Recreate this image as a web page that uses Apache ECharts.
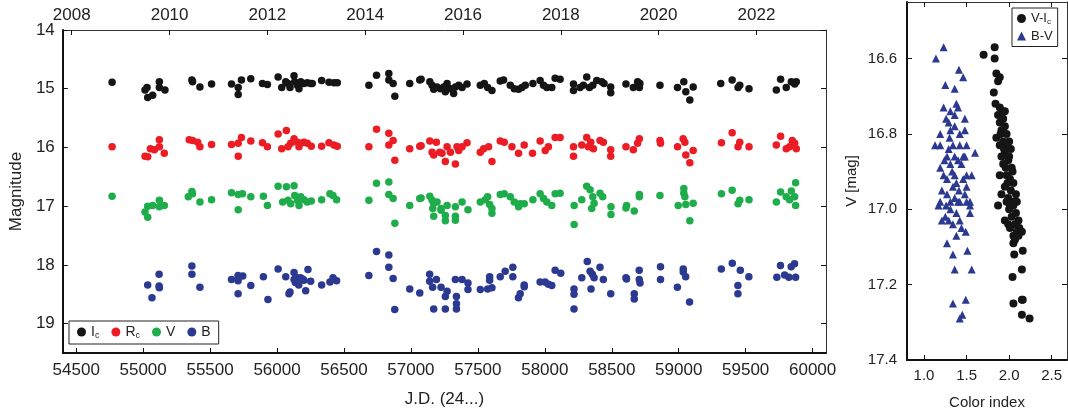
<!DOCTYPE html>
<html>
<head>
<meta charset="utf-8">
<script src="https://cdn.jsdelivr.net/npm/echarts@6.0.0/dist/echarts.min.js"></script>
<style>html,body{margin:0;padding:0;background:#fff}#c{width:1068px;height:415px}</style>
</head>
<body>
<div id="c"></div>
<script>
// ---- left panel: light curves (J.D. - 2400000, magnitude) ----
const jdTicks = [54500, 55000, 55500, 56000, 56500, 57000, 57500, 58000, 58500, 59000, 59500, 60000];
const magTicks = [14, 15, 16, 17, 18, 19];
const yearLabels = ['2008', '2010', '2012', '2014', '2016', '2018', '2020', '2022'];
const yearJD = [54466.5, 55197.5, 55927.5, 56658.5, 57388.5, 58119.5, 58849.5, 59580.5];

const Ic = [
[54768,14.89],[55014,15.02],[55034,15.15],[55071,15.11],[55029,14.98],[55121,14.88],[55121,14.98],[55163,15.02],
[55364,14.85],[55369,14.88],[55424,14.97],[55511,14.92],[55660,14.92],[55710,14.98],[55710,15.10],[55734,14.85],
[55804,14.83],[55891,14.91],[55928,14.93],[56008,14.80],[56035,14.98],[56065,14.88],[56082,14.91],[56097,14.98],
[56127,14.78],[56132,14.88],[56152,14.94],[56164,15.00],[56177,14.88],[56201,14.91],[56226,14.90],[56251,14.91],
[56263,14.91],[56333,14.86],[56388,14.89],[56425,14.90],[56450,14.90],[56686,14.94],[56743,14.77],[56835,14.74],
[56835,14.85],[56867,14.91],[56880,15.13],[56991,14.91],[57066,14.85],
[57076,14.84],[57141,14.88],[57158,14.94],[57170,15.01],[57195,14.97],[57220,15.00],[57245,14.97],[57257,15.05],
[57270,14.91],[57295,15.00],[57319,15.08],[57332,14.97],[57357,14.94],[57382,14.98],[57419,14.92],[57518,14.94],
[57548,14.91],[57573,14.98],[57605,15.03],[57667,14.87],[57692,14.85],[57742,14.94],[57772,15.00],[57804,15.01],
[57829,14.98],[57854,14.94],[57911,14.91],[57965,14.86],[57990,14.94],[58015,14.98],[58052,14.98],[58077,14.82],
[58114,14.84],[58214,14.92],[58214,15.03],[58263,14.98],[58288,14.94],[58313,14.80],[58333,14.98],[58358,14.94],
[58388,14.86],[58425,14.88],[58442,14.91],[58492,14.97],[58492,15.07],[58606,14.92],[58661,14.98],[58693,14.88],
[58706,14.98],[58710,14.91],[58860,14.94],[58991,14.98],[59038,14.88],[59053,15.05],[59083,15.19],[59108,14.97],
[59314,14.91],[59399,14.85],[59443,14.98],[59456,14.94],[59525,15.00],[59729,15.02],[59761,14.84],[59803,14.98],
[59841,14.88],[59866,14.92],[59878,14.88]
];

const Rc = [
[54768,15.99],[55014,16.15],[55034,16.16],[55054,16.02],[55084,16.04],[55121,15.87],[55121,15.99],[55158,16.10],
[55344,15.87],[55369,15.88],[55407,15.91],[55424,15.99],[55511,15.95],[55660,15.95],[55710,15.93],[55710,16.15],
[55734,15.83],[55804,15.89],[55891,15.92],[55928,15.99],[56008,15.77],[56035,16.02],[56070,15.71],[56082,15.99],
[56102,15.93],[56127,15.85],[56152,15.91],[56164,15.99],[56177,15.93],[56201,15.91],[56226,15.93],[56256,15.98],
[56333,15.98],[56388,15.92],[56425,15.96],[56450,15.98],[56686,15.99],[56743,15.69],[56835,15.76],[56835,15.96],
[56867,15.88],[56880,16.22],[56991,16.02],[57066,15.98],
[57076,15.97],[57141,15.89],[57158,16.08],[57170,16.13],[57190,15.91],[57215,16.08],[57232,16.10],[57257,16.24],
[57270,15.99],[57295,16.08],[57332,16.28],[57344,15.99],[57357,16.05],[57382,15.99],[57419,15.92],[57518,16.08],
[57543,16.02],[57580,15.99],[57605,16.24],[57667,15.89],[57697,15.91],[57754,15.99],[57804,16.10],[57846,15.96],
[57908,16.10],[57965,15.89],[58003,16.05],[58027,15.99],[58077,15.83],[58114,15.83],[58214,15.99],[58214,16.15],
[58276,15.96],[58313,15.83],[58325,15.99],[58343,15.91],[58363,16.02],[58412,15.88],[58437,15.91],[58492,16.04],
[58492,16.15],[58606,15.99],[58661,16.04],[58693,15.93],[58706,15.85],[58860,15.88],[58864,15.93],[58991,15.99],
[59033,15.85],[59046,15.91],[59053,16.13],[59083,16.26],[59108,16.05],[59319,15.92],[59399,15.75],[59443,15.99],
[59456,15.91],[59525,15.99],[59729,15.96],[59761,15.81],[59803,16.02],[59828,15.99],[59848,15.88],[59866,15.93],
[59878,16.02]
];

const V = [
[54768,16.83],[55014,17.10],[55034,17.19],[55034,17.00],[55071,16.99],[55121,16.90],[55121,17.01],[55158,16.99],
[55337,16.84],[55364,16.75],[55369,16.79],[55424,16.93],[55511,16.89],[55660,16.77],[55710,16.80],[55710,17.06],
[55742,16.79],[55804,16.84],[55898,16.83],[55928,16.99],[56008,16.66],[56042,16.93],[56070,16.67],[56082,16.90],
[56102,16.96],[56127,16.65],[56132,16.82],[56152,16.90],[56164,16.99],[56177,16.84],[56201,16.89],[56226,16.93],
[56256,16.91],[56333,16.89],[56395,16.79],[56418,16.82],[56445,16.89],[56686,16.90],[56743,16.61],[56835,16.59],
[56835,16.80],[56867,16.87],[56880,17.29],[56991,16.99],[57066,16.87],
[57076,16.86],[57141,16.83],[57158,16.90],[57170,16.95],[57195,16.93],[57225,17.04],[57270,16.99],[57163,17.04],
[57170,17.17],[57225,17.07],[57257,17.16],[57257,17.25],[57332,17.01],[57332,17.17],[57332,17.24],[57382,16.93],
[57426,17.06],[57518,16.93],[57605,17.04],[57605,17.12],[57804,17.01],[57846,16.96],[58052,16.99],[58219,16.99],
[58219,17.31],[58350,17.04],[58494,17.01],[58494,17.14],[58606,17.03],[58668,17.08],[58996,16.99],[59053,16.97],
[59083,17.25],[59108,16.95],[59443,16.96],[59873,16.99],
[57555,16.89],[57573,16.84],[57588,16.97],[57667,16.80],[57697,16.79],[57742,16.84],[57772,16.93],[57816,16.96],
[57911,16.89],[57965,16.79],[57990,16.87],[58015,16.93],[58077,16.79],[58114,16.78],[58276,16.89],[58313,16.66],
[58338,16.72],[58358,16.84],[58368,16.95],[58412,16.78],[58432,16.84],[58611,16.99],[58706,16.80],[58706,16.84],
[58860,16.82],[59038,16.70],[59038,16.78],[59046,16.84],[59319,16.79],[59399,16.73],[59456,16.90],[59525,16.89],
[59729,16.93],[59761,16.76],[59803,16.84],[59828,16.89],[59841,16.74],[59873,16.60],[59866,16.84]
];

const B = [
[55034,18.34],[55066,18.56],[55119,18.16],[55119,18.36],[55121,18.39],[55364,18.02],[55364,18.16],[55424,18.38],
[55660,18.25],[55709,18.18],[55709,18.27],[55709,18.49],[55744,18.19],[55804,18.35],[55898,18.20],[55932,18.59],
[56008,18.07],[56065,18.20],[56089,18.49],[56097,18.46],[56127,18.13],[56127,18.25],[56137,18.30],[56150,18.22],
[56162,18.34],[56175,18.22],[56190,18.24],[56201,18.26],[56214,18.44],[56231,18.08],[56251,18.28],[56333,18.34],
[56395,18.29],[56418,18.22],[56445,18.27],[56686,18.18],[56743,17.77],[56835,17.83],[56835,18.04],[56867,18.23],
[56879,18.76],[56991,18.41],[57066,18.48],
[57140,18.16],[57140,18.28],[57162,18.38],[57170,18.75],[57190,18.25],[57225,18.38],[57257,18.54],[57270,18.45],
[57257,18.75],[57332,18.25],[57382,18.25],[57340,18.54],[57340,18.66],[57340,18.75],[57426,18.31],[57426,18.42],
[57518,18.42],[57573,18.41],[57588,18.20],[57588,18.26],[57605,18.39],[57667,18.20],[57704,18.11],[57761,18.04],
[57761,18.20],[57803,18.56],[57816,18.49],[57846,18.34],[57846,18.37],[57965,18.29],[58002,18.29],[58027,18.33],
[58052,18.35],[58077,18.09],[58119,18.14],[58218,18.41],[58218,18.50],[58218,18.75],[58276,18.22],[58317,17.94],
[58338,18.11],[58345,18.41],[58355,18.16],[58368,18.22],[58412,18.04],[58437,18.25],[58492,18.49],[58606,18.22],
[58610,18.24],[58668,18.49],[58668,18.58],[58705,18.09],[58705,18.25],[58711,18.31],[58864,18.03],[58864,18.25],
[58990,18.38],[59034,18.07],[59034,18.12],[59052,18.20],[59081,18.63],[59318,18.07],[59400,17.97],[59442,18.35],
[59442,18.49],[59460,18.09],[59524,18.20],[59733,18.21],[59760,18.01],[59791,18.17],[59823,18.21],[59840,18.03],
[59865,17.98],[59873,18.21]
];

// ---- right panel: colour-magnitude diagram (colour index, V) ----
const ciTicks = [1.0, 1.5, 2.0, 2.5];
const vTicks = [16.6, 16.8, 17.0, 17.2, 17.4];

const VmI = [
[1.70,16.59],[1.83,16.57],[1.83,16.60],[1.85,16.64],[1.87,16.66],[1.89,16.65],[1.82,16.69],[1.84,16.72],
[1.89,16.73],[1.92,16.74],[1.87,16.75],[1.93,16.76],[1.89,16.77],[1.95,16.78],[1.91,16.79],[1.97,16.80],
[1.85,16.81],[1.93,16.82],[1.97,16.83],[1.89,16.83],[2.02,16.84],[1.95,16.85],[1.91,16.86],[1.99,16.87],
[1.93,16.88],[2.03,16.89],[1.89,16.91],[1.97,16.91],[2.01,16.92],[1.95,16.94],[2.05,16.93],[1.91,16.96],
[1.99,16.97],[2.05,16.98],[2.09,16.98],[1.87,16.99],[1.97,16.98],[2.01,16.99],[2.05,16.99],[1.95,17.03],
[1.99,17.04],[2.03,17.02],[2.07,17.04],[2.11,17.03],[2.15,17.06],[2.05,17.07],[2.09,17.06],[2.05,17.09],
[2.06,17.12],[2.16,17.11],[2.15,17.16],[2.04,17.18],[2.15,17.24],[2.16,17.24],[2.05,17.25],[2.15,17.28],
[2.24,17.29],
[1.95,16.74],[1.90,16.80],[2.00,16.82],[1.94,16.84],[2.00,16.86],[1.96,16.89],[2.04,16.90],[1.98,16.93],
[2.02,16.95],[2.08,16.96],[2.00,17.00],[2.08,17.01],[2.12,17.05],[2.07,17.08],[2.11,17.07],[2.01,17.05]
];

const BmV = [
[1.23,16.57],[1.14,16.60],[1.41,16.63],[1.46,16.65],[1.25,16.67],[1.36,16.68],
[1.38,16.72],[1.23,16.73],[1.31,16.74],[1.40,16.73],[1.26,16.76],[1.36,16.75],[1.48,16.76],[1.29,16.77],
[1.36,16.78],[1.19,16.80],[1.31,16.79],[1.42,16.80],[1.48,16.79],[1.13,16.83],[1.19,16.83],[1.34,16.83],
[1.42,16.83],[1.50,16.83],[1.27,16.86],[1.36,16.86],[1.46,16.86],[1.60,16.85],[1.19,16.89],[1.31,16.88],
[1.40,16.87],[1.48,16.86],[1.23,16.91],[1.36,16.91],[1.50,16.91],[1.56,16.91],[1.27,16.92],[1.38,16.93],
[1.46,16.92],[1.34,16.94],[1.21,16.95],[1.50,16.94],[1.27,16.96],[1.36,16.97],[1.48,16.96],[1.19,16.98],
[1.31,16.98],[1.42,16.98],[1.54,16.98],
[1.17,16.99],[1.26,16.99],[1.40,16.98],[1.50,16.98],[1.54,16.99],[1.31,17.00],[1.38,17.01],[1.54,17.01],
[1.21,17.03],[1.25,17.02],[1.29,17.03],[1.34,17.04],[1.42,17.03],[1.44,17.05],[1.38,17.07],[1.49,17.06],
[1.27,17.09],[1.51,17.11],[1.34,17.12],[1.36,17.16],[1.56,17.16],[1.34,17.25],[1.49,17.24],[1.45,17.28],
[1.42,17.29],
[1.30,16.81],[1.44,16.88],[1.24,16.87],[1.33,16.90],[1.41,16.95],[1.29,16.84]
];

const FONT = "'Liberation Sans', Arial, sans-serif";
const TXT = '#222';
const COLORS = {Ic: '#151515', Rc: '#ec1c24', V: '#1fad4b', B: '#2b3990'};

function labelFmt(name) {
  if (name === 'Ic') return '{n|I}{s|c}';
  if (name === 'Rc') return '{n|R}{s|c}';
  if (name === 'V-Ic') return '{n|V-I}{s|c}';
  return '{n|' + name + '}';
}

function axisBase(o) {
  return Object.assign({
    type: 'value',
    scale: true,
    splitLine: {show: false},
    axisLine: {show: true, onZero: false, lineStyle: {color: '#111', width: 2}},
    axisTick: {show: true, inside: true, length: 5, lineStyle: {color: '#111', width: 1}},
    axisLabel: {show: true, color: TXT, fontFamily: FONT, fontSize: 17},
    nameTextStyle: {color: TXT, fontFamily: FONT, fontSize: 17}
  }, o);
}

const chart = echarts.init(document.getElementById('c'), null, {renderer: 'canvas'});
chart.setOption({
  animation: false,
  backgroundColor: '#fff',
  grid: [
    {left: 62, top: 30, width: 764, height: 323},
    {left: 907, top: 2, width: 160, height: 358}
  ],
  xAxis: [
    axisBase({gridIndex: 0, position: 'bottom', min: 54400, max: 60100,
      axisTick: {show: true, inside: true, length: 5, customValues: jdTicks, lineStyle: {color: '#111'}},
      axisLabel: {color: TXT, fontFamily: FONT, fontSize: 17, margin: 9, customValues: jdTicks,
        formatter: v => String(Math.round(v))},
      name: 'J.D. (24...)', nameLocation: 'middle', nameGap: 38}),
    axisBase({gridIndex: 0, position: 'top', min: 54400, max: 60100,
      axisLine: {show: true, onZero: false, lineStyle: {color: '#333', width: 1}},
      axisTick: {show: true, inside: true, length: 5, customValues: yearJD, lineStyle: {color: '#111'}},
      axisLabel: {color: TXT, fontFamily: FONT, fontSize: 17, margin: 6, customValues: yearJD,
        formatter: function (v) {
          for (let i = 0; i < yearJD.length; i++) if (Math.abs(v - yearJD[i]) < 0.01) return yearLabels[i];
          return '';
        }}}),
    axisBase({gridIndex: 1, position: 'bottom', min: 0.8, max: 2.68,
      axisTick: {show: true, inside: true, length: 5, customValues: ciTicks, lineStyle: {color: '#111'}},
      axisLabel: {color: TXT, fontFamily: FONT, fontSize: 15, margin: 8, customValues: ciTicks,
        formatter: v => v.toFixed(1)},
      name: 'Color index', nameLocation: 'middle', nameGap: 35,
      nameTextStyle: {color: TXT, fontFamily: FONT, fontSize: 15}}),
    axisBase({gridIndex: 1, position: 'top', min: 0.8, max: 2.68,
      axisLine: {show: true, onZero: false, lineStyle: {color: '#333', width: 1}},
      axisTick: {show: true, inside: true, length: 5, customValues: ciTicks, lineStyle: {color: '#111'}},
      axisLabel: {show: false}})
  ],
  yAxis: [
    axisBase({gridIndex: 0, position: 'left', inverse: true, min: 14, max: 19.5,
      axisTick: {show: true, inside: true, length: 5, customValues: magTicks, lineStyle: {color: '#111'}},
      axisLabel: {color: TXT, fontFamily: FONT, fontSize: 17, margin: 8, customValues: magTicks,
        formatter: v => String(Math.round(v))},
      name: 'Magnitude', nameLocation: 'middle', nameGap: 36}),
    axisBase({gridIndex: 0, position: 'right', inverse: true, min: 14, max: 19.5,
      axisLine: {show: true, onZero: false, lineStyle: {color: '#333', width: 1}},
      axisTick: {show: true, inside: true, length: 5, customValues: magTicks, lineStyle: {color: '#111'}},
      axisLabel: {show: false}}),
    axisBase({gridIndex: 1, position: 'left', inverse: true, min: 16.45, max: 17.4,
      axisTick: {show: true, inside: true, length: 5, customValues: vTicks, lineStyle: {color: '#111'}},
      axisLabel: {color: TXT, fontFamily: FONT, fontSize: 15, margin: 10, customValues: vTicks,
        formatter: v => v.toFixed(1)},
      name: 'V [mag]', nameLocation: 'middle', nameGap: 48,
      nameTextStyle: {color: TXT, fontFamily: FONT, fontSize: 15}}),
    axisBase({gridIndex: 1, position: 'right', inverse: true, min: 16.45, max: 17.4,
      axisLine: {show: true, onZero: false, lineStyle: {color: '#333', width: 1}},
      axisTick: {show: true, inside: true, length: 5, customValues: vTicks, lineStyle: {color: '#111'}},
      axisLabel: {show: false}})
  ],
  legend: [
    {data: ['Ic', 'Rc', 'V', 'B'], orient: 'horizontal', left: 69, top: 321,
      padding: [4, 8, 4, 8], itemGap: 12, itemWidth: 9, itemHeight: 9, icon: 'circle',
      borderColor: '#222', borderWidth: 1, backgroundColor: '#fff',
      formatter: labelFmt,
      textStyle: {color: TXT, fontFamily: FONT, fontSize: 14,
        rich: {n: {fontSize: 14, fontFamily: FONT, color: TXT}, s: {fontSize: 9, fontFamily: FONT, color: TXT, padding: [7, 0, 0, 0]}}}},
    {data: [{name: 'V-Ic', icon: 'circle'}, {name: 'B-V', icon: 'triangle'}], orient: 'vertical', left: 1012, top: 8,
      padding: [4, 5, 4, 5], itemGap: 4, itemWidth: 9, itemHeight: 9,
      borderColor: '#222', borderWidth: 1, backgroundColor: '#fff',
      formatter: labelFmt,
      textStyle: {color: TXT, fontFamily: FONT, fontSize: 13,
        rich: {n: {fontSize: 13, fontFamily: FONT, color: TXT}, s: {fontSize: 8, fontFamily: FONT, color: TXT, padding: [6, 0, 0, 0]}}}}
  ],
  series: [
    {name: 'Ic', type: 'scatter', xAxisIndex: 0, yAxisIndex: 0, data: Ic, symbol: 'circle', symbolSize: 7.5, itemStyle: {color: COLORS.Ic, opacity: 1}},
    {name: 'Rc', type: 'scatter', xAxisIndex: 0, yAxisIndex: 0, data: Rc, symbol: 'circle', symbolSize: 7.5, itemStyle: {color: COLORS.Rc, opacity: 1}},
    {name: 'V', type: 'scatter', xAxisIndex: 0, yAxisIndex: 0, data: V, symbol: 'circle', symbolSize: 7.5, itemStyle: {color: COLORS.V, opacity: 1}},
    {name: 'B', type: 'scatter', xAxisIndex: 0, yAxisIndex: 0, data: B, symbol: 'circle', symbolSize: 7.5, itemStyle: {color: COLORS.B, opacity: 1}},
    {name: 'V-Ic', type: 'scatter', xAxisIndex: 2, yAxisIndex: 2, data: VmI, symbol: 'circle', symbolSize: 8, itemStyle: {color: COLORS.Ic, opacity: 1}},
    {name: 'B-V', type: 'scatter', xAxisIndex: 2, yAxisIndex: 2, data: BmV, symbol: 'triangle', symbolSize: 8, itemStyle: {color: COLORS.B, opacity: 1}}
  ]
});
</script>
</body>
</html>
